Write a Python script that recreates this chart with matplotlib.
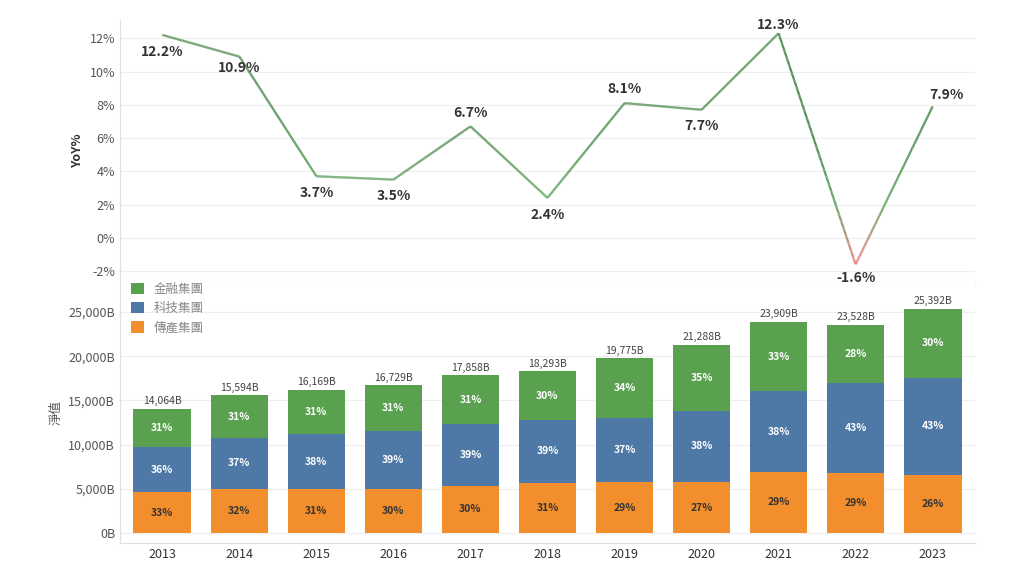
import matplotlib
matplotlib.use("Agg")
import matplotlib.pyplot as plt
import numpy as np
from matplotlib.collections import LineCollection
from matplotlib.colors import LinearSegmentedColormap

plt.rcParams["font.family"] = ["Noto Sans CJK TC", "DejaVu Sans"]

years = ["2013","2014","2015","2016","2017","2018","2019","2020","2021","2022","2023"]
yoy = [12.2, 10.9, 3.7, 3.5, 6.7, 2.4, 8.1, 7.7, 12.3, -1.6, 7.9]
totals = [14064, 15594, 16169, 16729, 17858, 18293, 19775, 21288, 23909, 23528, 25392]
pct_fin = [31, 31, 31, 31, 31, 30, 34, 35, 33, 28, 30]
pct_tech = [36, 37, 38, 39, 39, 39, 37, 38, 38, 43, 43]
pct_trad = [33, 32, 31, 30, 30, 31, 29, 27, 29, 29, 26]
names = ["金融集團", "科技集團", "傳產集團"]
colors = {"金融集團": "#59a14f", "科技集團": "#4e79a7", "傳產集團": "#f28e2b"}

fig = plt.figure(figsize=(10.24, 5.76), dpi=100)
ax1 = fig.add_axes([120/1024, 1-282/576, 855/1024, 262/576])
ax2 = fig.add_axes([120/1024, 1-543/576, 855/1024, 261/576])
x = np.arange(len(years))

# line with gradient towards red for negative values
cmap = LinearSegmentedColormap.from_list("g", ["#f08080", "#5aa55a", "#4a8a4a"])
xs = np.linspace(0, len(years)-1, 2000)
ys = np.interp(xs, x, yoy)
pts = np.array([xs, ys]).T.reshape(-1, 1, 2)
segs = np.concatenate([pts[:-1], pts[1:]], axis=1)
lc = LineCollection(segs, cmap=cmap, norm=plt.Normalize(-1.6, 6), linewidth=1.6)
lc.set_array(ys[:-1])
ax1.add_collection(lc)
offs = {0:(0,-12), 1:(0,-8), 2:(0,-12), 3:(0,-12), 4:(0,10), 5:(0,-12), 6:(0,10), 7:(0,-12), 8:(0,6), 9:(0,-10), 10:(10,8)}
for i, v in enumerate(yoy):
    dx, dy = offs[i]
    ax1.annotate(f"{v}%", (i, v), xytext=(dx, dy), textcoords="offset points",
                 ha="center", va="center", fontsize=10, color="#333333", fontweight="bold")
ax1.set_xlim(-0.55, len(years)-0.45)
ax1.set_ylim(-2.66, 13.1)
ax1.set_yticks(range(-2, 13, 2))
ax1.set_yticklabels([f"{t}%" for t in range(-2, 13, 2)], color="#555555", fontsize=9)
ax1.set_ylabel("YoY%", fontsize=9, fontweight="bold", color="#333333")
ax1.set_xticks([])

# stacked bars
trad = np.array(totals) * np.array(pct_trad) / 100
tech = np.array(totals) * np.array(pct_tech) / 100
fin = np.array(totals) - trad - tech
bottoms = [np.zeros(len(x)), trad, trad + tech]
for vals, bot, name, pcts in [(trad, bottoms[0], names[2], pct_trad), (tech, bottoms[1], names[1], pct_tech), (fin, bottoms[2], names[0], pct_fin)]:
    ax2.bar(x, vals, bottom=bot, width=0.75, color=colors[name], label=name)
    for i in range(len(x)):
        ax2.text(i, bot[i] + vals[i]/2, f"{pcts[i]}%", ha="center", va="center", fontsize=7.5,
                 color="#333333" if name == names[2] else "white", fontweight="bold")
for i, t in enumerate(totals):
    ax2.text(i, t + 300, f"{t:,}B", ha="center", va="bottom", fontsize=7.5, color="#444444")
ax2.set_xlim(-0.55, len(years)-0.45)
ax2.set_ylim(-1130, 28400)
ax2.set_yticks(range(0, 25001, 5000))
ax2.set_yticklabels([f"{t:,}B" for t in range(0, 25001, 5000)], color="#555555", fontsize=9)
ax2.set_xticks(x)
ax2.set_xticklabels(years, fontsize=9, color="#333333")
ax2.set_ylabel("淨值", fontsize=9, color="#555555")
h, l = ax2.get_legend_handles_labels()
order = [2, 1, 0]
ax2.legend([h[k] for k in order], [l[k] for k in order], loc="upper left", frameon=False,
           fontsize=9, bbox_to_anchor=(0, 1.04), handlelength=1, handleheight=1, labelcolor="#888888")

for ax in (ax1, ax2):
    for s in ["top", "right"]:
        ax.spines[s].set_visible(False)
    for s in ["left", "bottom"]:
        ax.spines[s].set_color("#e0e0e0")
    ax.tick_params(length=0)
    ax.grid(axis="y", color="#eeeeee", linewidth=0.8)
    ax.set_axisbelow(True)

fig.savefig("out.png", dpi=100, facecolor="white")
